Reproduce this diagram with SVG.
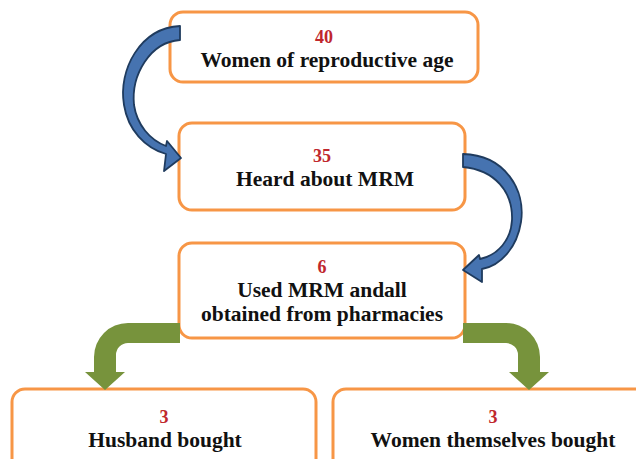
<svg xmlns="http://www.w3.org/2000/svg" width="636" height="459" viewBox="0 0 636 459">
<style>
.box{fill:#fff;stroke:#F79646;stroke-width:3}
.num{font-family:"Liberation Serif",serif;font-weight:bold;font-size:18px;fill:#C0272D;text-anchor:middle}
.lbl{font-family:"Liberation Serif",serif;font-weight:bold;font-size:21.5px;fill:#111;text-anchor:middle}
.blue{fill:#4673B0;stroke:#1F3B5E;stroke-width:1.8;stroke-linejoin:round}
.green{fill:#77933C}
</style>
<rect width="636" height="459" fill="#fff"/>
<g id="n1">
<rect class="box" x="170" y="12" width="308" height="70" rx="13"/>
<text class="num" x="324" y="43">40</text>
<text class="lbl" x="327" y="67">Women of reproductive age</text>
</g>
<g id="n2">
<rect class="box" x="179" y="123" width="286" height="87" rx="13"/>
<text class="num" x="322" y="162">35</text>
<text class="lbl" x="325" y="186">Heard about MRM</text>
</g>
<g id="n3">
<rect class="box" x="179" y="243" width="286" height="95" rx="13"/>
<text class="num" x="322" y="273">6</text>
<text class="lbl" x="322" y="297">Used MRM andall</text>
<text class="lbl" x="322" y="321">obtained from pharmacies</text>
</g>
<g id="n4">
<rect class="box" x="12" y="389" width="304" height="90" rx="13"/>
<text class="num" x="164" y="423">3</text>
<text class="lbl" x="165" y="447">Husband bought</text>
</g>
<g id="n5">
<rect class="box" x="333" y="389" width="320" height="90" rx="13"/>
<text class="num" x="493" y="423">3</text>
<text class="lbl" x="493" y="447">Women themselves bought</text>
</g>
<g id="connectors">
<path class="blue" d="M180,26 C140,28 118,70 124,105 C128,130 145,148 166,154 L164,171 L181,158 L167,141 L166,146 C150,140 137,125 134,105 C131,75 150,42 180,40 Z"/>
<path class="blue" d="M463,154 C505,155 526,190 521,222 C517,248 500,266 482,269 L482,282 L463,270 L479,255 L480,259 C498,255 511,240 512,220 C513,192 495,170 463,167 Z"/>
<path class="green" d="M180,323 L128,323 A34,34 0 0 0 94,357 L94,372 L85,372 L105,390 L125,372 L116,372 L116,355 A12,12 0 0 1 128,343 L180,343 Z"/>
<path class="green" d="M463,323 L506,323 A34,34 0 0 1 540,357 L540,372 L549,372 L529,390 L509,372 L518,372 L518,355 A12,12 0 0 0 506,343 L463,343 Z"/>
</g>
</svg>
